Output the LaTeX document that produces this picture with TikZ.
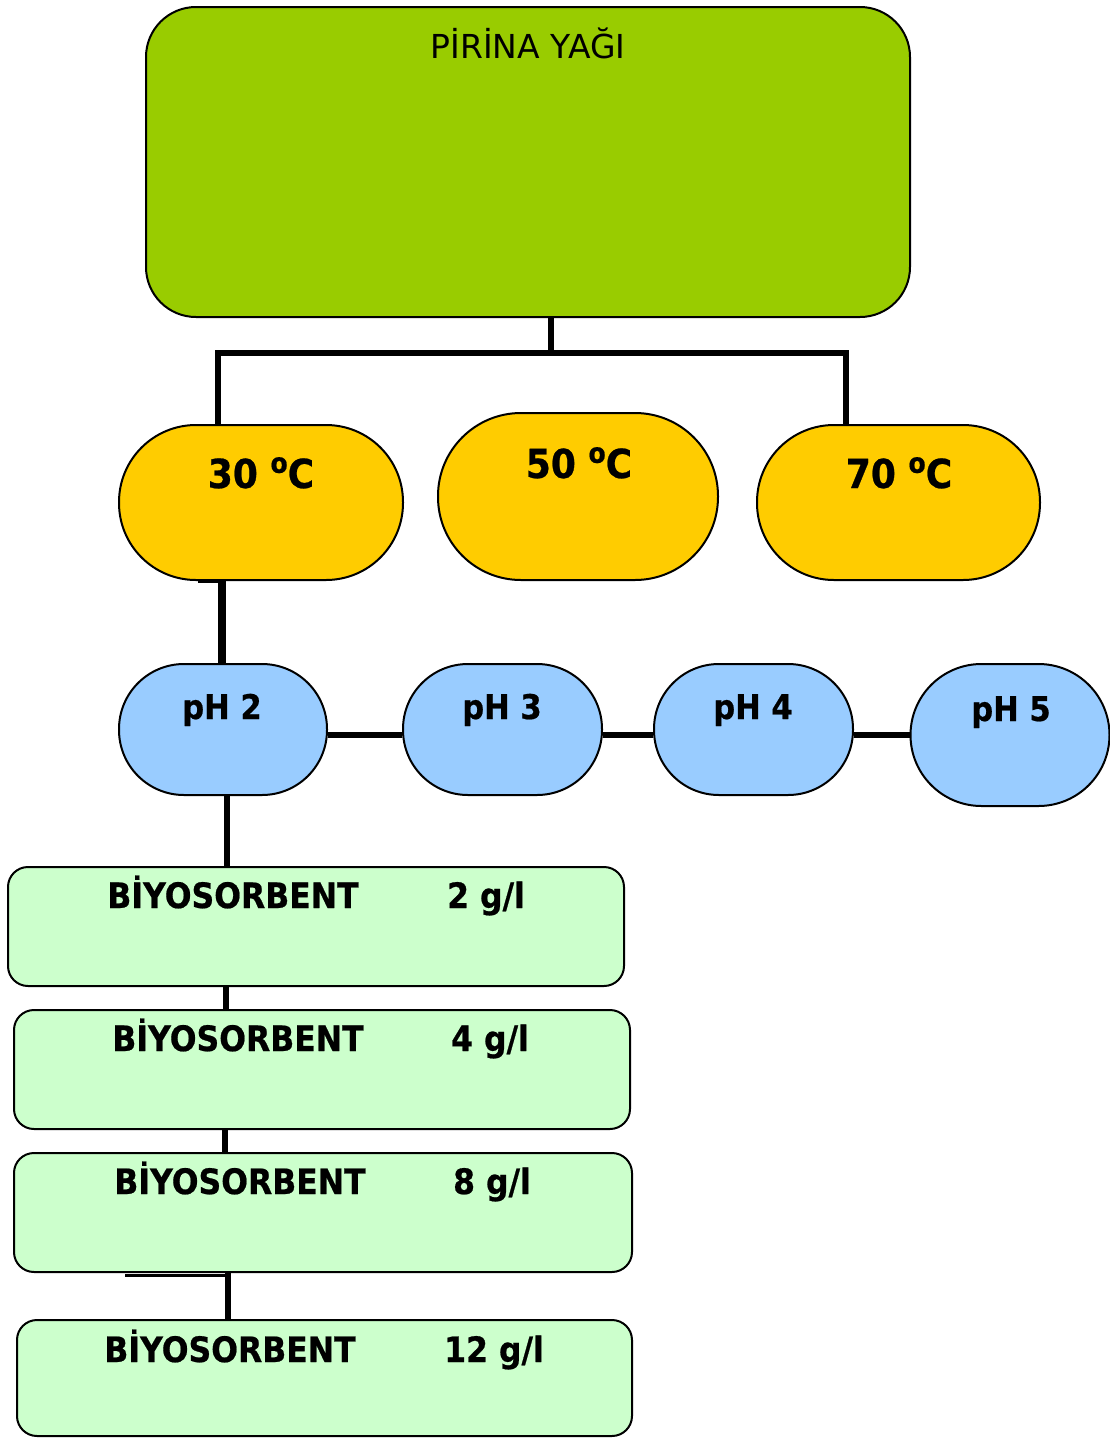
\documentclass[tikz,border=0pt]{standalone}
\usepackage{fontspec}
\setmainfont{DejaVu Sans}
\newfontfamily\cnd[FakeStretch=0.9,BoldFeatures={FakeBold=0.6}]{DejaVu Sans}
\usetikzlibrary{calc}
\definecolor{olive}{HTML}{99CC00}
\definecolor{gold}{HTML}{FFCC00}
\definecolor{sky}{HTML}{99CCFF}
\definecolor{mint}{HTML}{CCFFCC}
\tikzset{
  shp/.style={draw=black, line width=2pt, rectangle, inner sep=0pt},
  green/.style={shp, fill=olive, rounded corners=50pt, minimum width=764pt, minimum height=310pt},
  temp/.style={shp, fill=gold, rounded corners=77pt, minimum height=155pt},
  phbox/.style={shp, fill=sky, rounded corners=65pt, minimum height=131pt},
  bio/.style={shp, fill=mint, rounded corners=20pt, minimum height=119pt},
  conn/.style={line width=6pt, line join=miter},
  thick conn/.style={line width=8pt, line join=miter},
  thin/.style={line width=5.5pt},
  stub/.style={line width=3pt},
  lbl/.style={anchor=base, inner sep=0pt, font=\cnd\bfseries\fontsize{34}{40}\selectfont},
  blbl/.style={anchor=base, inner sep=0pt, font=\cnd\bfseries\fontsize{35}{40}\selectfont},
  tlbl/.style={anchor=base, inner sep=0pt, font=\cnd\bfseries\fontsize{40}{46}\selectfont},
}
\newcommand{\degsup}{\raisebox{0.38em}{\fontsize{28}{28}\selectfont o}}
\begin{document}
\begin{tikzpicture}[x=1pt, y=-1pt]
\useasboundingbox (0,0) rectangle (1110,1438);
% shapes
\node[green] (oil) at (528,162) {};
\node[temp, minimum width=284pt] (t30) at (261,502.5) {};
\node[temp, minimum width=280pt, minimum height=167pt, rounded corners=83pt] (t50) at (578,496.5) {};
\node[temp, minimum width=283pt] (t70) at (898.5,502.5) {};
\node[phbox, minimum width=208pt] (ph2) at (223,729.5) {};
\node[phbox, minimum width=199pt] (ph3) at (502.5,729.5) {};
\node[phbox, minimum width=199pt] (ph4) at (753.5,729.5) {};
\node[phbox, minimum width=199pt, minimum height=142pt, rounded corners=71pt] (ph5) at (1010,735) {};
\node[bio, minimum width=616pt] (b1) at (316,926.5) {};
\node[bio, minimum width=616pt] (b2) at (322,1069.5) {};
\node[bio, minimum width=618pt] (b3) at (323,1212.5) {};
\node[bio, minimum width=615pt, minimum height=116pt] (b4) at (324.5,1378) {};
% connectors
\draw[conn] ([xshift=23pt]oil.south) -- ++(0,35) coordinate (j);
\draw[conn] ([xshift=-43pt]t30.north) |- (j) -| ([xshift=-52.5pt]t70.north);
\draw[stub] ([xshift=-63pt]t30.south) -- ([xshift=-39pt]t30.south);
\draw[thick conn] ([xshift=-39pt]t30.south) -- ([xshift=-1pt]ph2.north);
\draw[conn] ([yshift=-5.5pt]ph2.east) -- ([yshift=-5.5pt]ph3.west);
\draw[conn] ([yshift=-5.5pt]ph3.east) -- ([yshift=-5.5pt]ph4.west);
\draw[conn] ([yshift=-5.5pt]ph4.east) -- (ph5.west);
\draw[thin] ([xshift=4pt]ph2.south) -- ([xshift=-89pt]b1.north);
\draw[thin] ([xshift=-90pt]b1.south) -- ([xshift=-96pt]b2.north);
\draw[thin] ([xshift=-97pt]b2.south) -- ([xshift=-98pt]b3.north);
\draw[stub] ([xshift=-198pt,yshift=-2pt]b3.south) -- ([xshift=-95pt,yshift=-2pt]b3.south);
\draw[thin] ([xshift=-95pt]b3.south) -- ([xshift=-96.5pt]b4.north);
% texts
\node[anchor=base, inner sep=0pt, font=\fontsize{33}{38}\selectfont] (oilT) at (528,58) {PİRİNA YAĞI};
\node[tlbl] (t30T) at (261,488) {30 \degsup C};
\node[tlbl] (t50T) at (579,478) {50 \degsup C};
\node[tlbl] (t70T) at (899,488) {70 \degsup C};
\node[lbl] (ph2T) at (222,719) {pH 2};
\node[lbl] (ph3T) at (502,719) {pH 3};
\node[lbl] (ph4T) at (753,719) {pH 4};
\node[lbl] (ph5T) at (1011,721) {pH 5};
\node[blbl] (b1a) at (233,908) {BİYOSORBENT};
\node[blbl] (b1b) at (486,908) {2 g/l};
\node[blbl] (b2a) at (238,1051) {BİYOSORBENT};
\node[blbl] (b2b) at (490,1051) {4 g/l};
\node[blbl] (b3a) at (240,1194) {BİYOSORBENT};
\node[blbl] (b3b) at (492,1194) {8 g/l};
\node[blbl] (b4a) at (230,1362) {BİYOSORBENT};
\node[blbl] (b4b) at (494,1362) {12 g/l};
\end{tikzpicture}
\end{document}
